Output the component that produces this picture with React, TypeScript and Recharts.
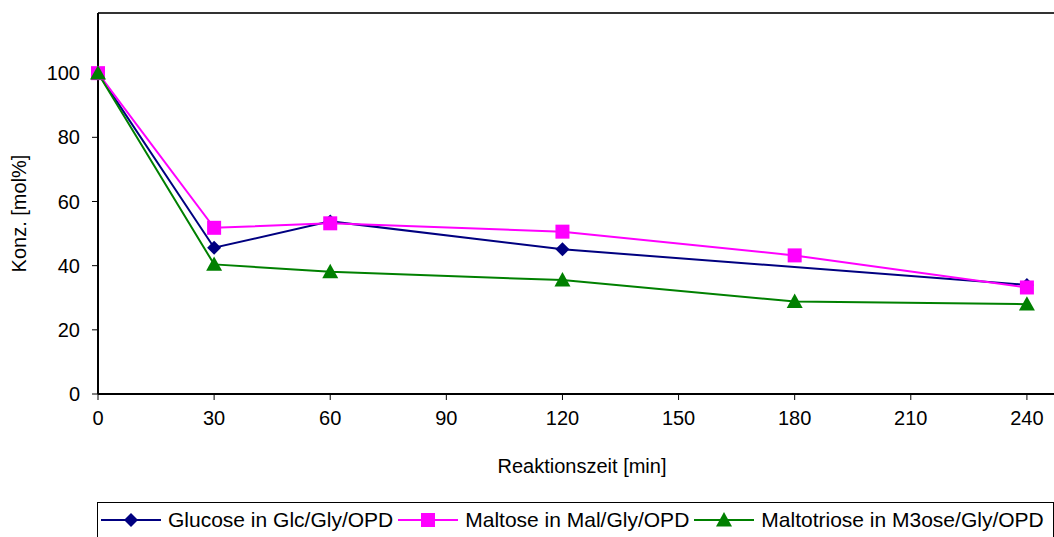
import React from "react";
import {
  LineChart,
  Line,
  XAxis,
  YAxis,
  Legend,
  ReferenceLine,
} from "recharts";

const times = [0, 30, 60, 120, 180, 240];
const glucose = [100, 45.6, 53.8, 45.1, null, 34];
const maltose = [100, 51.8, 53.2, 50.6, 43.2, 33.2];
const maltotriose = [100, 40.4, 38.1, 35.5, 28.8, 28.0];
const xTicks = [0, 30, 60, 90, 120, 150, 180, 210, 240];
const yTicks = [0, 20, 40, 60, 80, 100];
const xMax = 247;
const yMax = 118.75;

const seriesNames = [
  "Glucose in Glc/Gly/OPD",
  "Maltose in Mal/Gly/OPD",
  "Maltotriose in M3ose/Gly/OPD",
];

const data = times.map((t, i) => ({
  t,
  glc: glucose[i],
  mal: maltose[i],
  m3: maltotriose[i],
}));

const FONT = "'Liberation Sans', Arial, sans-serif";

function Diamond({ cx, cy, fill }: any) {
  if (cx == null || cy == null) return null;
  const r = 7;
  return (
    <path
      d={`M${cx},${cy - r}L${cx + r},${cy}L${cx},${cy + r}L${cx - r},${cy}Z`}
      fill={fill}
    />
  );
}

function Square({ cx, cy, fill }: any) {
  if (cx == null || cy == null) return null;
  const r = 7;
  return <rect x={cx - r} y={cy - r} width={r * 2} height={r * 2} fill={fill} />;
}

function Triangle({ cx, cy, fill }: any) {
  if (cx == null || cy == null) return null;
  const r = 8;
  return (
    <path
      d={`M${cx},${cy - r}L${cx + r},${cy + r * 0.8}L${cx - r},${cy + r * 0.8}Z`}
      fill={fill}
    />
  );
}

const legendItems = [
  { name: seriesNames[0], color: "#000080", Shape: Diamond },
  { name: seriesNames[1], color: "#FF00FF", Shape: Square },
  { name: seriesNames[2], color: "#008000", Shape: Triangle },
];

function LegendBox() {
  return (
    <div
      style={{
        border: "1px solid #000",
        borderBottom: "none",
        height: 35,
        marginTop: 1,
        boxSizing: "border-box",
        display: "flex",
        alignItems: "center",
        fontFamily: FONT,
        fontSize: 21,
        paddingLeft: 2,
        whiteSpace: "nowrap",
      }}
    >
      {legendItems.map((it) => (
        <div
          key={it.name}
          style={{ display: "flex", alignItems: "center", marginRight: 4 }}
        >
          <svg width={62} height={20}>
            <line x1={1} y1={10} x2={61} y2={10} stroke={it.color} strokeWidth={2} />
            <it.Shape cx={31} cy={10} fill={it.color} />
          </svg>
          <span style={{ marginLeft: 6, color: "#000" }}>{it.name}</span>
        </div>
      ))}
    </div>
  );
}

export default function App() {
  return (
    <div style={{ position: "absolute", left: 0, top: 0, background: "#fff" }}>
      <LineChart
        width={1054}
        height={537}
        data={data}
        margin={{ top: 13, right: 0, left: 0, bottom: 0 }}
        style={{ fontFamily: FONT }}
      >
        <XAxis
          dataKey="t"
          type="number"
          domain={[0, xMax]}
          ticks={xTicks}
          interval={0}
          height={107}
          tickSize={6}
          tickMargin={11}
          stroke="#000"
          tick={{ fill: "#000", fontSize: 20 }}
          axisLine={{ stroke: "#000", strokeWidth: 2 }}
          label={{
            value: "Reaktionszeit [min]",
            position: "center",
            dy: 18,
            dx: 6,
            fill: "#000",
            fontSize: 20,
          }}
        />
        <YAxis
          domain={[0, yMax]}
          ticks={yTicks}
          interval={0}
          width={98}
          tickSize={6}
          tickMargin={12}
          stroke="#000"
          tick={{ fill: "#000", fontSize: 20 }}
          axisLine={{ stroke: "#000", strokeWidth: 2 }}
          label={{
            value: "Konz. [mol%]",
            angle: -90,
            position: "center",
            dx: -30,
            dy: 10,
            fill: "#000",
            fontSize: 20,
          }}
        />
        <ReferenceLine y={yMax} stroke="#333" strokeWidth={2} ifOverflow="visible" />
        <Legend
          verticalAlign="bottom"
          height={36}
          wrapperStyle={{ left: 97, width: 957 }}
          content={() => <LegendBox />}
        />
        <Line
          dataKey="glc"
          name={seriesNames[0]}
          stroke="#000080"
          strokeWidth={2}
          connectNulls
          dot={(p: any) => <Diamond key={"g" + p.index} {...p} fill="#000080" />}
          activeDot={false}
          isAnimationActive={false}
        />
        <Line
          dataKey="mal"
          name={seriesNames[1]}
          stroke="#FF00FF"
          strokeWidth={2}
          dot={(p: any) => <Square key={"m" + p.index} {...p} fill="#FF00FF" />}
          activeDot={false}
          isAnimationActive={false}
        />
        <Line
          dataKey="m3"
          name={seriesNames[2]}
          stroke="#008000"
          strokeWidth={2}
          dot={(p: any) => <Triangle key={"t" + p.index} {...p} fill="#008000" />}
          activeDot={false}
          isAnimationActive={false}
        />
      </LineChart>
    </div>
  );
}
